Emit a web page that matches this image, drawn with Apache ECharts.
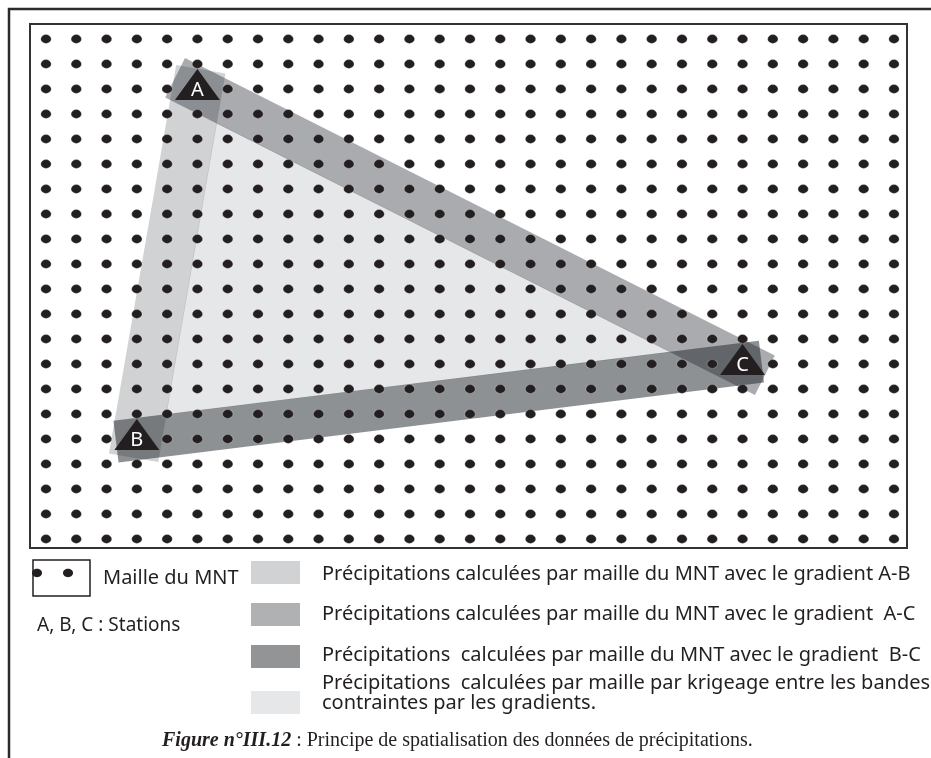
<!DOCTYPE html>
<html><head><meta charset="utf-8">
<script src="https://cdn.jsdelivr.net/npm/echarts@6/dist/echarts.min.js"></script>
<style>html,body{margin:0;padding:0;background:#fff}#c{width:931px;height:758px}</style>
</head><body><div id="c"></div>
<script>
// ---- data ----
const meshCols = [0,1,2,3,4,5,6,7,8,9,10,11,12,13,14,15,16,17,18,19,20,21,22,23,24,25,26,27,28];
const meshRows = [0,1,2,3,4,5,6,7,8,9,10,11,12,13,14,15,16,17,18,19,20];
const stationNames = ['A','B','C'];
const stationCol = [5, 3, 23];
const stationRow = [2, 16, 13];
const bandStart = [0, 0, 1];   // A-B, A-C, B-C
const bandEnd   = [1, 2, 2];
const legendMesh = 'Maille du MNT';
const legendStations = 'A, B, C : Stations';
const legendBands = [
  'Précipitations calculées par maille du MNT avec le gradient A-B',
  'Précipitations calculées par maille du MNT avec le gradient  A-C',
  'Précipitations  calculées par maille du MNT avec le gradient  B-C',
  'Précipitations  calculées par maille par krigeage entre les bandes\ncontraintes par les gradients.'
];
const captionBold = 'Figure n°III.12';
const captionRest = ' : Principe de spatialisation des données de précipitations.';

// ---- styles ----
const INK = '#231f20';
const SANS = '"Noto Sans", "Open Sans", sans-serif';
const SERIF = '"Liberation Serif", "DejaVu Serif", serif';
const BAND_STYLE = [
  {fill: 'rgba(22,28,34,0.20)', half: 25, ext: [20, 19]},
  {fill: 'rgba(22,28,34,0.37)', half: 22, ext: [25, 25]},
  {fill: 'rgba(22,28,34,0.485)', half: 21, ext: [21, 19]}
];
const SWATCH = ['#d1d2d4', '#b0b1b3', '#939496', '#e6e7e8'];
const SWATCH_Y = [561, 603, 645, 691];
const TEXT_Y = [574, 614, 655, 693];

const meshData = [];
meshRows.forEach(r => meshCols.forEach(c => meshData.push([c, r])));

function bandItem(params, api) {
  const i = params.dataIndex;
  const a = api.coord([stationCol[bandStart[i]], stationRow[bandStart[i]]]);
  const b = api.coord([stationCol[bandEnd[i]], stationRow[bandEnd[i]]]);
  const st = BAND_STYLE[i];
  const dx = b[0]-a[0], dy = b[1]-a[1], L = Math.hypot(dx, dy);
  const ux = dx/L, uy = dy/L, nx = -uy, ny = ux;
  const s = [a[0]-ux*st.ext[0], a[1]-uy*st.ext[0]];
  const e = [b[0]+ux*st.ext[1], b[1]+uy*st.ext[1]];
  const pts = [
    [s[0]+nx*st.half, s[1]+ny*st.half], [e[0]+nx*st.half, e[1]+ny*st.half],
    [e[0]-nx*st.half, e[1]-ny*st.half], [s[0]-nx*st.half, s[1]-ny*st.half]
  ];
  return {type: 'polygon', shape: {points: pts}, style: {fill: st.fill}};
}

// inner region between the three bands (kriging zone)
function centerItem(params, api) {
  const P = stationNames.map((n, i) => api.coord([stationCol[i], stationRow[i]]));
  const lines = bandStart.map((s, i) => {
    const p = P[s], q = P[bandEnd[i]];
    const r = P[3 - s - bandEnd[i]];
    let dx = q[0]-p[0], dy = q[1]-p[1]; const L = Math.hypot(dx, dy); dx /= L; dy /= L;
    let nx = -dy, ny = dx;
    if (nx*(r[0]-p[0]) + ny*(r[1]-p[1]) < 0) { nx = -nx; ny = -ny; }
    const h = BAND_STYLE[i].half - 0.6;
    return {p: [p[0]+nx*h, p[1]+ny*h], d: [dx, dy]};
  });
  function inter(l1, l2) {
    const cr = l1.d[0]*l2.d[1] - l1.d[1]*l2.d[0];
    const wx = l2.p[0]-l1.p[0], wy = l2.p[1]-l1.p[1];
    const t = (wx*l2.d[1] - wy*l2.d[0]) / cr;
    return [l1.p[0]+t*l1.d[0], l1.p[1]+t*l1.d[1]];
  }
  const pts = [inter(lines[0], lines[1]), inter(lines[0], lines[2]), inter(lines[1], lines[2])];
  return {type: 'polygon', shape: {points: pts}, style: {fill: '#e6e7e8'}};
}

function stationItem(params, api) {
  const i = params.dataIndex;
  const p = api.coord([stationCol[i], stationRow[i]]);
  return {
    type: 'group',
    children: [
      {type: 'polygon', shape: {points: [[p[0], p[1]-20], [p[0]+22.5, p[1]+11], [p[0]-22.5, p[1]+11]]},
       style: {fill: INK}},
      {type: 'text', x: p[0], y: p[1]+1.5,
       style: {text: stationNames[i], fill: '#fff', font: '20px ' + SANS, align: 'center', verticalAlign: 'middle'}}
    ]
  };
}

const graphics = [
  {type: 'rect', shape: {x: 9, y: 9, width: 1000, height: 1000}, style: {fill: 'none', stroke: '#2a2a2a', lineWidth: 2.5}, silent: true},
  {type: 'rect', shape: {x: 33, y: 560, width: 57, height: 36}, style: {fill: 'none', stroke: INK, lineWidth: 1.5}},
  {type: 'ellipse', shape: {cx: 37, cy: 573, rx: 5, ry: 4.2}, style: {fill: INK}},
  {type: 'ellipse', shape: {cx: 68, cy: 573, rx: 5, ry: 4.2}, style: {fill: INK}},
  {type: 'text', x: 103, y: 578, style: {text: legendMesh, fill: INK, font: '20px ' + SANS, verticalAlign: 'middle'}},
  {type: 'text', x: 37, y: 626, style: {text: legendStations, fill: INK, font: '19px ' + SANS, verticalAlign: 'middle'}},
  {type: 'text', x: 162, y: 741, style: {
     text: '{b|' + captionBold + '}' + captionRest, fill: INK, font: '20px ' + SERIF, verticalAlign: 'middle',
     rich: {b: {fontFamily: SERIF, fontSize: 20, fontWeight: 'bold', fontStyle: 'italic', fill: INK}}}}
];
legendBands.forEach((t, i) => {
  graphics.push({type: 'rect', shape: {x: 251, y: SWATCH_Y[i], width: 49, height: 23}, style: {fill: SWATCH[i]}});
  graphics.push({type: 'text', x: 322, y: TEXT_Y[i], style: {text: t, fill: INK, font: '20px ' + SANS, verticalAlign: 'middle', lineHeight: 20}});
});

const chart = echarts.init(document.getElementById('c'), null, {renderer: 'canvas'});
chart.setOption({
  animation: false,
  backgroundColor: '#fff',
  grid: {left: 30, top: 24, width: 877, height: 524, show: true, borderColor: '#333', borderWidth: 2, backgroundColor: 'transparent'},
  xAxis: {type: 'value', min: -0.528, max: 28.43, show: false},
  yAxis: {type: 'value', min: -0.6, max: 20.36, inverse: true, show: false},
  graphic: graphics,
  series: [
    {type: 'custom', name: 'krigeage', renderItem: centerItem, data: [[0, 0]], z: 1, silent: true},
    {type: 'custom', name: 'bands', renderItem: bandItem, data: bandStart.map((s, i) => [s, bandEnd[i]]), z: 2, silent: true},
    {type: 'scatter', name: 'mesh', data: meshData, symbol: 'circle', symbolSize: [10.5, 8.8], z: 3, silent: true,
     itemStyle: {color: INK, borderColor: 'rgba(255,255,255,0.25)', borderWidth: 1, opacity: 1}},
    {type: 'custom', name: 'stations', renderItem: stationItem, data: stationNames.map((n, i) => [stationCol[i], stationRow[i]]), z: 4, silent: true}
  ]
});
</script></body></html>
